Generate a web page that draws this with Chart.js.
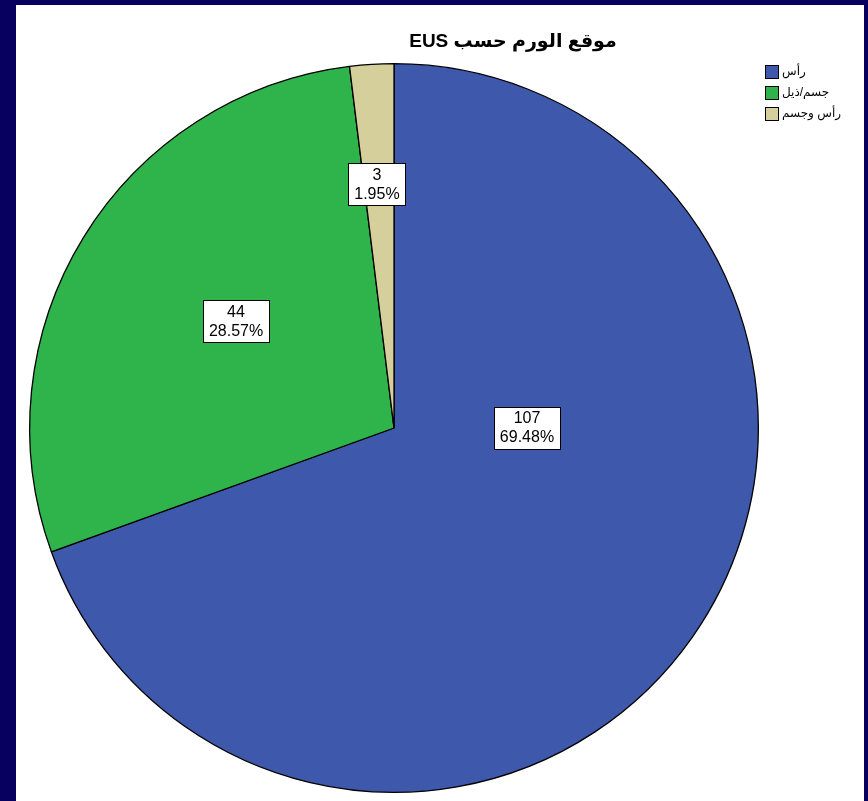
<!DOCTYPE html>
<html>
<head>
<meta charset="utf-8">
<script src="https://cdn.jsdelivr.net/npm/chart.js@4"></script>
<style>
  html, body { margin: 0; padding: 0; background: #08005e; width: 868px; height: 801px; overflow: hidden; }
  #panel { position: absolute; left: 16px; top: 5px; width: 848px; height: 796px; background: #ffffff; }
  canvas { display: block; }
</style>
</head>
<body>
<div id="panel"><canvas id="c" width="848" height="796"></canvas></div>
<script>
const titleText = 'موقع الورم حسب EUS';
const categories = ['رأس', 'جسم/ذيل', 'رأس وجسم'];
const counts = [107, 44, 3];
const sliceColors = ['#3e58ac', '#2fb44c', '#d5cf9b'];
// label placement: direction (degrees clockwise from top) and fraction of radius
const labelAngles = [90, 304, 356];
const labelFracs = [0.365, 0.523, 0.671];

const total = counts.reduce((a, b) => a + b, 0);
const FONT = 'Arial, "Liberation Sans", "DejaVu Sans", sans-serif';

const overlay = {
  id: 'overlay',
  afterDraw(chart) {
    const ctx = chart.ctx;
    const meta = chart.getDatasetMeta(0);
    // slice labels
    ctx.save();
    ctx.font = '16px ' + FONT;
    ctx.textAlign = 'center';
    ctx.textBaseline = 'middle';
    meta.data.forEach((arc, i) => {
      const th = (labelAngles[i] - 90) * Math.PI / 180;
      const r = arc.outerRadius * labelFracs[i];
      const x = arc.x + Math.cos(th) * r;
      const y = arc.y + Math.sin(th) * r;
      const l1 = String(counts[i]);
      const l2 = (counts[i] / total * 100).toFixed(2) + '%';
      const w = Math.max(ctx.measureText(l1).width, ctx.measureText(l2).width) + 12;
      const h = 42;
      ctx.fillStyle = '#ffffff';
      ctx.fillRect(Math.round(x - w / 2) + 0.5, Math.round(y - h / 2) + 0.5, Math.round(w), h);
      ctx.strokeStyle = '#000000';
      ctx.lineWidth = 1;
      ctx.strokeRect(Math.round(x - w / 2) + 0.5, Math.round(y - h / 2) + 0.5, Math.round(w), h);
      ctx.fillStyle = '#000000';
      ctx.fillText(l1, x, y - 9);
      ctx.fillText(l2, x, y + 10);
    });
    ctx.restore();

    // title
    ctx.save();
    ctx.font = 'bold 19px ' + FONT;
    ctx.direction = 'rtl';
    ctx.textAlign = 'center';
    ctx.textBaseline = 'middle';
    ctx.fillStyle = '#000000';
    ctx.fillText(titleText, 497, 37);
    ctx.restore();

    // legend
    ctx.save();
    ctx.font = '12px ' + FONT;
    ctx.direction = 'rtl';
    ctx.textAlign = 'left';
    ctx.textBaseline = 'middle';
    categories.forEach((c, i) => {
      const bx = 749, by = 60 + i * 21;
      ctx.fillStyle = sliceColors[i];
      ctx.fillRect(bx + 0.5, by + 0.5, 13, 13);
      ctx.strokeStyle = '#000000';
      ctx.lineWidth = 1;
      ctx.strokeRect(bx + 0.5, by + 0.5, 13, 13);
      ctx.fillStyle = '#000000';
      ctx.fillText(c, bx + 17, by + 7);
    });
    ctx.restore();
  }
};

new Chart(document.getElementById('c'), {
  type: 'pie',
  data: {
    labels: categories,
    datasets: [{
      data: counts,
      backgroundColor: sliceColors,
      borderColor: '#000000',
      borderWidth: 1.3
    }]
  },
  options: {
    responsive: false,
    animation: false,
    events: [],
    layout: { padding: { left: 13, right: 105, top: 58, bottom: 8 } },
    plugins: {
      legend: { display: false },
      title: { display: false },
      tooltip: { enabled: false }
    }
  },
  plugins: [overlay]
});
</script>
</body>
</html>
